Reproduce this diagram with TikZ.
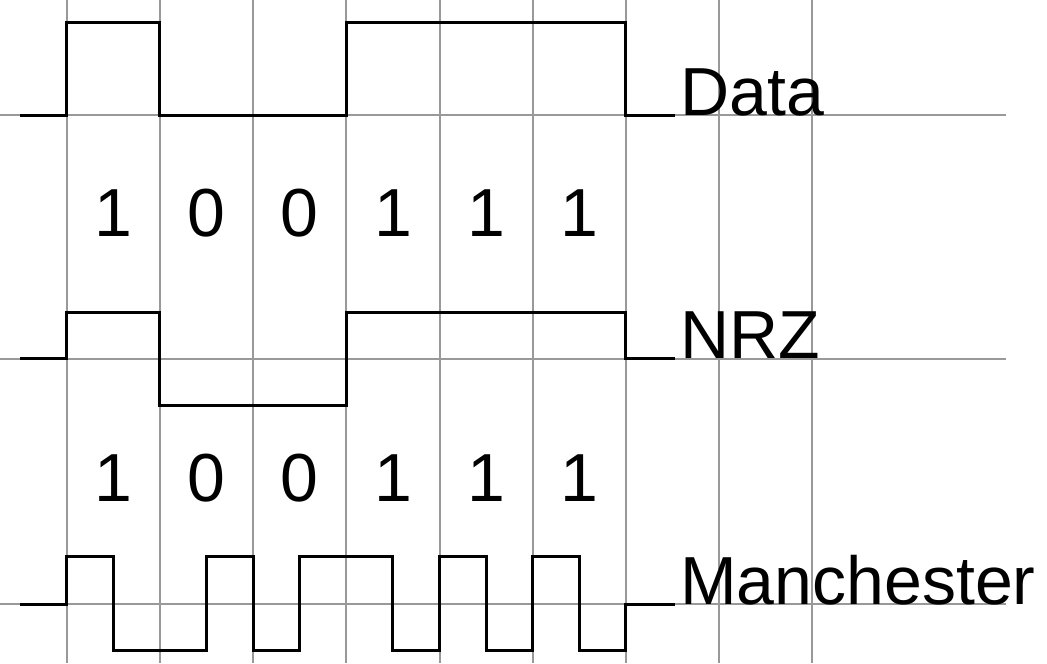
\documentclass[tikz,border=0pt]{standalone}
\usepackage{fontspec}
\setmainfont{Liberation Sans}
\usepackage{tikz}

\begin{document}
\begin{tikzpicture}[
    x=1.864cm, y=-0.02cm,
    grid line/.style={draw=black!40, line width=0.04cm},
    signal/.style={draw=black, line width=0.06cm, line join=miter},
    bit/.style={inner sep=0, font=\fontsize{38.7}{46}\selectfont},
    sig label/.style={anchor=base west, inner sep=0, font=\fontsize{38.7}{46}\selectfont}
]
\useasboundingbox (-0.7157,0) rectangle (10.518,663);
\foreach \i in {0,...,8}
    \draw[grid line] (\i,0) -- (\i,663);
\foreach \y in {115,358.5,604}
    \draw[grid line] (-0.7157,\y) -- (10.08,\y);

\draw[signal] (-0.5,115) -| (0,22.7) -| (1,115) -| (3,22.7) -| (6,115) -- (6.53,115);
\draw[signal] (-0.5,358.5) -| (0,312.3) -| (1,405.7) -| (3,312.3) -| (6,358.5) -- (6.53,358.5);
\draw[signal] (-0.5,604) -| (0,556.5) -| (0.5,650.7) -| (1.5,556.5) -| (2,650.7)
    -| (2.5,556.5) -| (3.5,650.7) -| (4,556.5) -| (4.5,650.7) -| (5,556.5)
    -| (5.5,650.7) -| (6,604) -- (6.53,604);

\foreach \b [count=\i] in {1,0,0,1,1,1} {
    \node[bit] (data bit\i) at (\i-0.5,213) {\b};
    \node[bit] (code bit\i) at (\i-0.5,478) {\b};
}

\node[sig label] (data) at (6.58,115) {Data};
\node[sig label] (nrz) at (6.58,358.5) {NRZ};
\node[sig label] (manchester) at (6.58,604) {Manchester};
\end{tikzpicture}
\end{document}
